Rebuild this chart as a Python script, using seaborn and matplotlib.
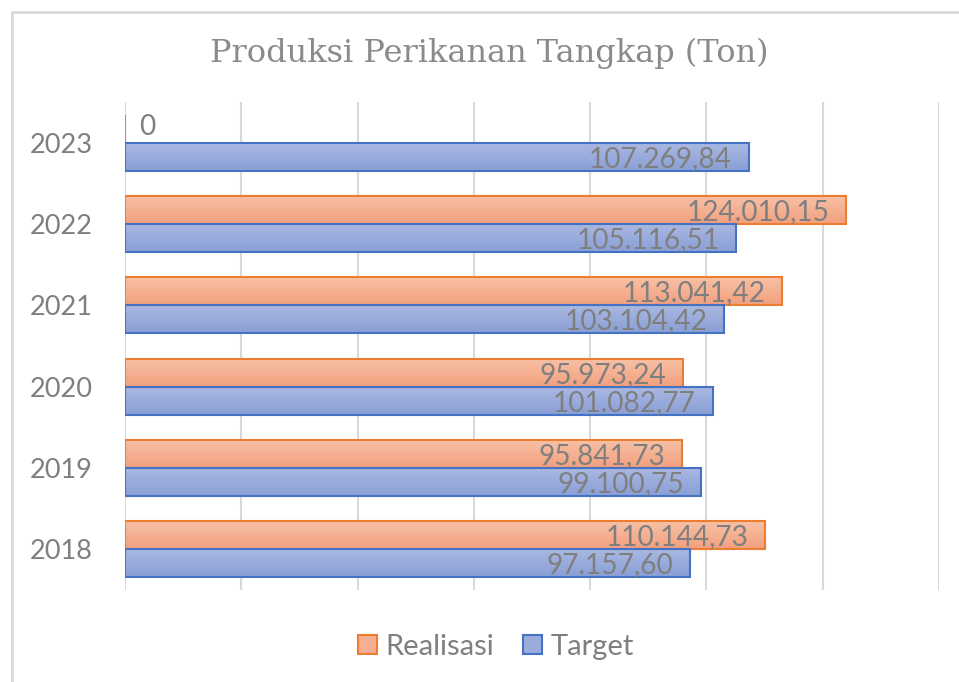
import numpy as np
import pandas as pd
import matplotlib
matplotlib.use("Agg")
import matplotlib.pyplot as plt
import seaborn as sns
from matplotlib.colors import LinearSegmentedColormap
from matplotlib.patches import Patch
from matplotlib.lines import Line2D

# Data ----------------------------------------------------------------------
years = ["2023", "2022", "2021", "2020", "2019", "2018"]
realisasi = [0, 124010.15, 113041.42, 95973.24, 95841.73, 110144.73]
target = [107269.84, 105116.51, 103104.42, 101082.77, 99100.75, 97157.60]
series = ["Realisasi", "Target"]

df = pd.DataFrame({
    "Tahun": years * 2,
    "Nilai": realisasi + target,
    "Seri": [series[0]] * len(years) + [series[1]] * len(years),
})

# Style ---------------------------------------------------------------------
sns.set_style("white")
plt.rcParams["font.family"] = ["Lato", "DejaVu Sans"]

grey = "#7F7F7F"
grid_col = "#D9D9D9"
edge = {"Realisasi": "#ED7D31", "Target": "#4472C4"}
grad = {"Realisasi": ("#F8C2A7", "#F2A07E"), "Target": ("#AAB9E2", "#8A9FD6")}
mid = {"Realisasi": "#F5B093", "Target": "#9AACDC"}

fig = plt.figure(figsize=(9.59, 6.82), dpi=100)
ax = fig.add_axes([125 / 959, 92 / 682, (939 - 125) / 959, (590 - 102) / 682])

sns.barplot(data=df, x="Nilai", y="Tahun", hue="Seri", order=years,
            hue_order=series, orient="h", width=0.69, ax=ax,
            palette=mid, legend=False, saturation=1)

ax.set_xlim(0, 140000)
ax.set_xticks(np.arange(0, 140001, 20000))
ax.set_xticklabels([])
ax.xaxis.grid(True, color=grid_col, linewidth=1.5)
ax.set_axisbelow(True)
ax.tick_params(axis="both", length=0)
ax.tick_params(axis="y", pad=23, labelsize=19.5, labelcolor=grey)
ax.set_xlabel("")
ax.set_ylabel("")
for s in ax.spines.values():
    s.set_visible(False)

ylim = ax.get_ylim()

# gradient fills + labels ---------------------------------------------------
for cont, name in zip(ax.containers, series):
    cmap = LinearSegmentedColormap.from_list(name, grad[name])
    for bar in cont:
        x0, y0 = bar.get_x(), bar.get_y()
        w, h = bar.get_width(), bar.get_height()
        bar.set_edgecolor(edge[name])
        bar.set_linewidth(1.5)
        if w > 0:
            bar.set_facecolor("none")
            im = ax.imshow(np.linspace(0, 1, 64).reshape(-1, 1), cmap=cmap,
                           extent=(x0, x0 + w, y0 + h, y0), origin="upper",
                           aspect="auto", zorder=bar.get_zorder() - 0.1)
            im.set_clip_path(bar)
        txt = f"{w:,.2f}".replace(",", "#").replace(".", ",").replace("#", ".")
        if w == 0:
            ax.annotate("0", (x0 + w, y0 + h / 2), xytext=(10.5, 1),
                        textcoords="offset points", ha="left", va="center",
                        fontsize=20.2, color=grey)
        else:
            ax.annotate(txt, (x0 + w, y0 + h / 2), xytext=(-12, -1.5),
                        textcoords="offset points", ha="right", va="center",
                        fontsize=20.2, color=grey)

ax.set_ylim(ylim)
ax.set_xlim(0, 140000)

# title, legend, frame ------------------------------------------------------
fig.text(489 / 959, 1 - 53 / 682, "Produksi Perikanan Tangkap (Ton)",
         ha="center", va="center", fontsize=23, color="#8A8A8A",
         family=["DejaVu Serif"])

handles = [Patch(facecolor=mid[n], edgecolor=edge[n], linewidth=1.5) for n in series]
fig.legend(handles, series, loc="center", bbox_to_anchor=(496 / 959, 1 - 647 / 682),
           ncol=2, frameon=False, fontsize=21, labelcolor=grey,
           handlelength=0.65, handleheight=0.65, handletextpad=0.3, columnspacing=1.0)

fig.add_artist(Line2D([12 / 959, 12 / 959], [0, 1 - 12 / 682], color=grid_col,
                      linewidth=2, transform=fig.transFigure))
fig.add_artist(Line2D([12 / 959, 1], [1 - 12 / 682, 1 - 12 / 682], color=grid_col,
                      linewidth=2, transform=fig.transFigure))

fig.savefig("out.png", dpi=100, facecolor="white")
